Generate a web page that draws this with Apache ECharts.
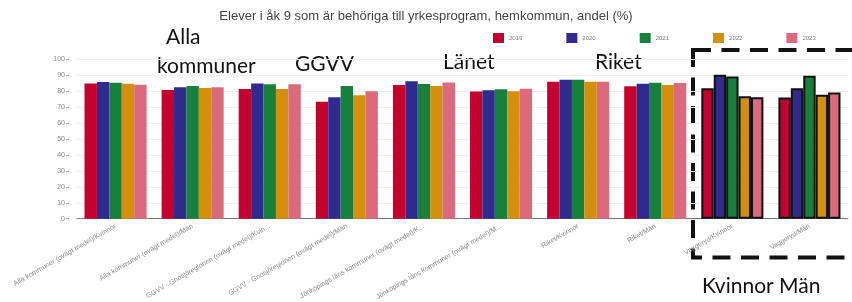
<!DOCTYPE html>
<html lang="sv">

<head>
    <meta charset="UTF-8">
    <title>Elever i åk 9 behöriga till yrkesprogram</title>
    <script src="https://cdn.jsdelivr.net/npm/echarts@6/dist/echarts.min.js"></script>
    <style>
        html, body { margin: 0; padding: 0; background: #fff; }
        #main { width: 852px; height: 302px; }
    </style>
</head>

<body>
    <div id="main"></div>
</body>

</html>
<script type="text/javascript">
    // kategorier (kommun/grupp + kön)
    var categories = [
        'Alla kommuner (ovägt medel)/Kvinnor',
        'Alla kommuner (ovägt medel)/Män',
        'GGVV - Gnosjöregionen (ovägt medel)/Kvinnor',
        'GGVV - Gnosjöregionen (ovägt medel)/Män',
        'Jönköpings läns kommuner (ovägt medel)/Kvinnor',
        'Jönköpings läns kommuner (ovägt medel)/Män',
        'Riket/Kvinnor',
        'Riket/Män',
        'Vaggeryd/Kvinnor',
        'Vaggeryd/Män'
    ];
    var years = ['2019', '2020', '2021', '2022', '2023'];
    var v2019 = [85.0, 80.9, 81.5, 73.4, 84.0, 79.9, 86.1, 83.2, 82.0, 76.2];
    var v2020 = [85.8, 82.5, 85.0, 76.3, 86.3, 80.7, 87.3, 84.8, 90.4, 82.0];
    var v2021 = [85.4, 83.4, 84.4, 83.4, 84.6, 81.3, 87.3, 85.4, 89.3, 89.8];
    var v2022 = [84.8, 82.1, 81.5, 77.6, 83.4, 80.1, 86.1, 84.0, 76.9, 77.9];
    var v2023 = [84.2, 82.5, 84.4, 80.1, 85.5, 81.7, 86.1, 85.2, 76.3, 79.3];
    var yTicks = [0, 10, 20, 30, 40, 50, 60, 70, 80, 90, 100];
    var colors = ['#c4002f', '#2e2a8e', '#16803c', '#d4900d', '#db6b7c'];
    // Vaggeryd-staplarna har svart kant i bilden
    var highlighted = ['Vaggeryd/Kvinnor', 'Vaggeryd/Män'];

    var allValues = [v2019, v2020, v2021, v2022, v2023];

    var series = [];
    for (var i = 0; i < years.length; i++) {
        var d = [];
        for (var j = 0; j < categories.length; j++) {
            if (highlighted.indexOf(categories[j]) >= 0) {
                d.push({ value: allValues[i][j], itemStyle: { borderColor: '#111', borderWidth: 2 } });
            } else {
                d.push(allValues[i][j]);
            }
        }
        series.push({
            name: years[i],
            type: 'bar',
            data: d,
            barGap: '0%',
            barCategoryGap: '19.5%',
            itemStyle: { color: colors[i] }
        });
    }

    var bigFont = 'Lato, "Open Sans", sans-serif';
    function note(text, x, y) {
        return {
            type: 'text',
            left: x,
            top: y,
            style: { text: text, font: '21px ' + bigFont, fill: '#111' }
        };
    }

    var myChart = echarts.init(document.getElementById('main'));
    var option = {
        animation: false,
        color: colors,
        title: {
            text: 'Elever i åk 9 som är behöriga till yrkesprogram, hemkommun, andel (%)',
            left: 'center',
            top: 5,
            textStyle: { fontSize: 13, fontWeight: 'normal', color: '#444', fontFamily: 'Liberation Sans, Arial, sans-serif' }
        },
        legend: {
            data: years,
            left: 488,
            top: 28,
            icon: 'rect',
            itemWidth: 11,
            itemHeight: 10,
            itemGap: 44,
            textStyle: { fontSize: 6, color: '#777' }
        },
        grid: { left: 77, top: 59.5, width: 771, height: 162.5 },
        xAxis: {
            type: 'category',
            data: categories,
            axisLine: { lineStyle: { color: '#777' } },
            axisTick: { show: false },
            axisLabel: {
                interval: 0,
                rotate: 30,
                fontSize: 7,
                color: '#888',
                margin: 7,
                formatter: function (s) {
                    return s.length > 40 ? s.substring(0, 40) + '...' : s;
                }
            }
        },
        yAxis: {
            type: 'value',
            min: yTicks[0],
            max: yTicks[yTicks.length - 1],
            interval: yTicks[1] - yTicks[0],
            offset: 8,
            axisLine: { show: false },
            axisTick: { show: true, length: 3, lineStyle: { color: '#aaa' } },
            axisLabel: { fontSize: 7, color: '#888', margin: 4 },
            splitLine: { lineStyle: { color: '#eee' } }
        },
        series: series,
        graphic: [
            note('Alla', 166, 27),
            note('kommuner', 157, 56),
            note('GGVV', 295, 54),
            note('Länet', 443, 52),
            note('Riket', 595, 52),
            note('Kvinnor Män', 702, 276),
            {
                type: 'rect',
                shape: { x: 693, y: 50, width: 200, height: 207.5 },
                style: { fill: null, stroke: '#111', lineWidth: 4, lineDash: [18, 10.5] }
            }
        ]
    };
    myChart.setOption(option);
</script>
